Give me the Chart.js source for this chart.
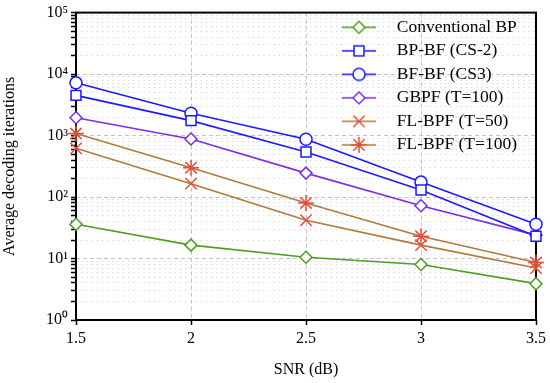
<!DOCTYPE html>
<html>
<head>
<meta charset="utf-8">
<script src="https://cdn.jsdelivr.net/npm/chart.js@4.4.1/dist/chart.umd.min.js"></script>
<style>
  html, body { margin: 0; padding: 0; background: #fff; }
  #wrap { width: 550px; height: 383px; }
</style>
</head>
<body>
<div id="wrap"><canvas id="chart"></canvas></div>
<script>
const snr = [1.5, 2, 2.5, 3, 3.5];
const xTickLabels = ["1.5", "2", "2.5", "3", "3.5"];
const yTickLabels = ["10\u2070", "10\u00b9", "10\u00b2", "10\u00b3", "10\u2074", "10\u2075"];

const conventionalBP = [36, 16.5, 10.5, 8, 3.9];
const bpBfCs2 = [4500, 1750, 540, 130, 23];
const bfBfCs3 = [7200, 2300, 870, 175, 36];
const gbpf100 = [1950, 880, 245, 72, 24];
const flBpf50 = [620, 165, 42, 16.5, 7];
const flBpf100 = [1080, 300, 80, 23, 8.6];

const serif = "'Liberation Serif', 'Times New Roman', serif";

const series = [
  { label: "Conventional BP", data: conventionalBP, line: "#4f9d22", mark: "#4f9d22", style: "rectRot", r: 6 },
  { label: "BP-BF (CS-2)", data: bpBfCs2, line: "#1a1aff", mark: "#1a1aff", style: "rect", r: 7 },
  { label: "BF-BF (CS3)", data: bfBfCs3, line: "#1a1aff", mark: "#1a1aff", style: "circle", r: 6 },
  { label: "GBPF (T=100)", data: gbpf100, line: "#7f2ee6", mark: "#7f2ee6", style: "rectRot", r: 6 },
  { label: "FL-BPF (T=50)", data: flBpf50, line: "#b07a3c", mark: "#e0503a", style: "crossRot", r: 8 },
  { label: "FL-BPF (T=100)", data: flBpf100, line: "#b07a3c", mark: "#e0503a", style: "star", r: 8 }
];

function isDecade(v) {
  const l = Math.log10(v);
  return Math.abs(l - Math.round(l)) < 1e-6;
}

function makeIcon(s) {
  const c = document.createElement("canvas");
  c.width = 38; c.height = 18;
  const ctx = c.getContext("2d");
  ctx.strokeStyle = s.line;
  ctx.lineWidth = 1.6;
  ctx.beginPath(); ctx.moveTo(2, 9); ctx.lineTo(36, 9); ctx.stroke();
  ctx.fillStyle = "#fff";
  ctx.strokeStyle = s.mark;
  ctx.lineWidth = 1.5;
  Chart.helpers.drawPoint(ctx, { pointStyle: s.style, radius: s.r, rotation: 0, borderWidth: 1.5 }, 19, 9);
  return c;
}

const frame = {
  id: "frame",
  afterLayout(chart) {
    // put the legend column inside the plot, top right
    const lg = chart.legend;
    if (lg) { lg.left = 324; lg.top = chart.chartArea.top; }
  },
  beforeDatasetsDraw(chart) {
    const { ctx, chartArea: a } = chart;
    ctx.save();
    ctx.strokeStyle = "#000";
    ctx.lineWidth = 2;
    ctx.strokeRect(a.left, a.top, a.right - a.left, a.bottom - a.top);
    ctx.restore();
  }
};

new Chart(document.getElementById("chart"), {
  type: "line",
  data: {
    datasets: series.map(s => ({
      label: s.label,
      data: s.data.map((v, i) => ({ x: snr[i], y: v })),
      borderColor: s.line,
      borderWidth: 1.6,
      pointStyle: s.style,
      pointRadius: s.r,
      pointBorderColor: s.mark,
      pointBackgroundColor: "#fff",
      pointBorderWidth: 1.5,
      tension: 0,
      clip: false,
      icon: makeIcon(s)
    }))
  },
  options: {
    responsive: true,
    maintainAspectRatio: false,
    animation: false,
    layout: { padding: { top: 12, right: 14, left: 0, bottom: 0 } },
    scales: {
      x: {
        type: "linear",
        min: 1.5,
        max: 3.5,
        afterBuildTicks: scale => { scale.ticks = snr.map(v => ({ value: v })); },
        afterFit: scale => { scale.height = 63; },
        ticks: {
          callback: (v) => xTickLabels[snr.indexOf(v)],
          color: "#000",
          font: { family: serif, size: 16 },
          padding: 4,
          maxRotation: 0
        },
        grid: { color: "#c4c4c4", tickColor: "#000", tickLength: 5, tickWidth: 1.5 },
        border: { display: false, dash: [4, 3] },
        title: { display: true, text: "SNR (dB)", color: "#000", font: { family: serif, size: 16 }, padding: { top: 4 } }
      },
      y: {
        type: "logarithmic",
        min: 1,
        max: 100000,
        afterBuildTicks: scale => {
          const t = [];
          yTickLabels.forEach((_, e) => {
            for (let m = 1; m <= (e === yTickLabels.length - 1 ? 1 : 9); m++) t.push({ value: m * Math.pow(10, e), major: m === 1 });
          });
          scale.ticks = t;
        },
        afterFit: scale => { scale.width = 76; },
        ticks: {
          autoSkip: false,
          callback: (v) => isDecade(v) ? yTickLabels[Math.round(Math.log10(v))] : "",
          color: "#000",
          font: { family: serif, size: 16 },
          padding: 3
        },
        grid: {
          color: ctx => isDecade(ctx.tick.value) ? "#c4c4c4" : "#d2d2d2",
          tickColor: "#000",
          tickLength: 5,
          tickWidth: 1.5
        },
        border: {
          display: false,
          dash: ctx => isDecade(ctx.tick.value) ? [4, 3] : [1.2, 4]
        },
        title: { display: true, text: "Average decoding iterations", color: "#000", font: { family: serif, size: 16 }, padding: { top: 0, bottom: 2 } }
      }
    },
    plugins: {
      tooltip: { enabled: false },
      legend: {
        position: "chartArea",
        align: "start",
        labels: {
          usePointStyle: true,
          pointStyleWidth: 58,
          padding: 6,
          color: "#000",
          font: { family: serif, size: 17.5 },
          generateLabels: chart => chart.data.datasets.map((ds, i) => ({
            text: ds.label,
            pointStyle: ds.icon,
            datasetIndex: i,
            lineWidth: 0,
            strokeStyle: "transparent",
            fillStyle: "transparent"
          }))
        }
      }
    }
  },
  plugins: [frame]
});
</script>
</body>
</html>
